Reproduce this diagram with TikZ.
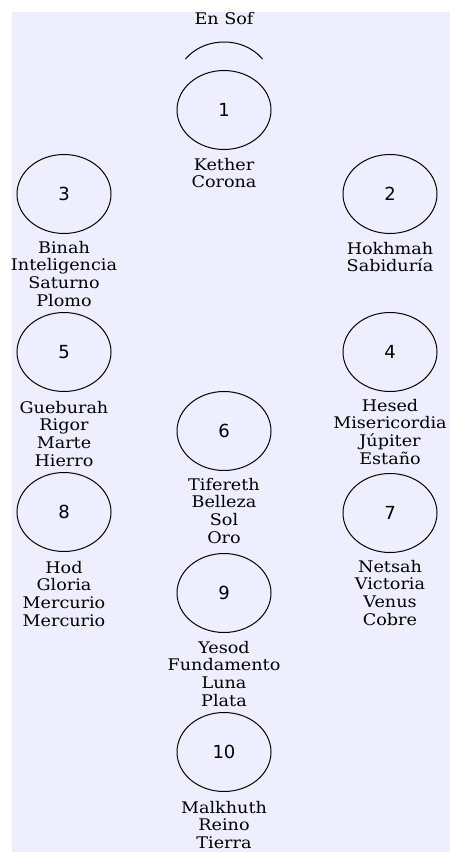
\documentclass[tikz,border=0pt]{standalone}
\usepackage{fontspec}
\usetikzlibrary{shapes.geometric}
\setmainfont{DejaVu Serif}[FakeStretch=1.1]
\newfontfamily\numfont{DejaVu Sans}
\definecolor{bgcol}{HTML}{EEEEFF}
\begin{document}
\begin{tikzpicture}[x=1pt,y=1pt,
  sefira/.style={draw=black, line width=1pt, ellipse, minimum width=94pt, minimum height=79pt, inner sep=0pt, font=\numfont\fontsize{18}{20}\selectfont},
  lbl/.style={anchor=north, align=center, inner sep=0pt, font=\fontsize{16}{17.6}\selectfont}]
\useasboundingbox (0,0) rectangle (450,-852);
\fill[white] (0,0) rectangle (450,-852);
\fill[bgcol] (12,-12) rectangle (450,-852);
% En Sof
\node[lbl, anchor=center] (ensof) at (224,-19) {En Sof};
\draw[line width=1pt] (224,-82) ++(35:47 and 40) arc[start angle=35, end angle=145, x radius=47, y radius=40];
% sefirot
\node[sefira] (s1) at (224,-110) {1};
\node[sefira] (s3) at (64,-194) {3};
\node[sefira] (s2) at (390,-194) {2};
\node[sefira] (s5) at (64,-352) {5};
\node[sefira] (s4) at (390,-352) {4};
\node[sefira] (s6) at (224,-431) {6};
\node[sefira] (s8) at (64,-512) {8};
\node[sefira] (s7) at (390,-513) {7};
\node[sefira] (s9) at (224,-593) {9};
\node[sefira] (s10) at (224,-752) {10};
% labels
\node[lbl] (l1) at (224,-158) {Kether\\Corona};
\node[lbl] (l3) at (64,-241) {Binah\\Inteligencia\\Saturno\\Plomo};
\node[lbl] (l2) at (390,-242) {Hokhmah\\Sabiduría};
\node[lbl] (l5) at (64,-401) {Gueburah\\Rigor\\Marte\\Hierro};
\node[lbl] (l4) at (390,-399) {Hesed\\Misericordia\\Júpiter\\Estaño};
\node[lbl] (l6) at (224,-478) {Tifereth\\Belleza\\Sol\\Oro};
\node[lbl] (l8) at (64,-561) {Hod\\Gloria\\Mercurio\\Mercurio};
\node[lbl] (l7) at (390,-560) {Netsah\\Victoria\\Venus\\Cobre};
\node[lbl] (l9) at (224,-641) {Yesod\\Fundamento\\Luna\\Plata};
\node[lbl] (l10) at (224,-801) {Malkhuth\\Reino\\Tierra};
\end{tikzpicture}
\end{document}
